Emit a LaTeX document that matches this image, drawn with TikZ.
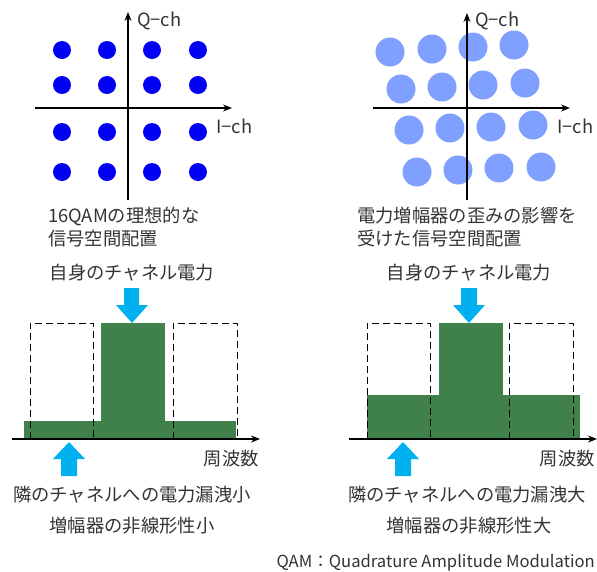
\documentclass[tikz,border=0pt]{standalone}
\usepackage{fontspec}
\setmainfont{Noto Sans CJK JP}
\usetikzlibrary{arrows.meta}
\definecolor{dotblue}{RGB}{0,0,245}
\definecolor{lightdot}{RGB}{128,160,255}
\definecolor{bargreen}{RGB}{64,128,74}
\definecolor{cyanarrow}{RGB}{0,176,240}
\definecolor{txt}{RGB}{51,51,51}
\begin{document}
\begin{tikzpicture}[x=1pt,y=-1pt,
  axis/.style={line width=1.3pt,black,-{Stealth[length=9pt,width=7pt]}},
  lbl/.style={font=\fontsize{18.3}{21}\selectfont,text=txt,inner sep=0pt},
  dotA/.style={circle,fill=dotblue,minimum size=18pt,inner sep=0pt},
  dotB/.style={circle,fill=lightdot,minimum size=29pt,inner sep=0pt},
  dashbox/.style={dashed,dash pattern=on 7pt off 4pt,line width=1pt,black},
  band/.style={fill=bargreen},
  blockarrow/.style={fill=cyanarrow}]
\useasboundingbox (0,0) rectangle (597,571);
% ---------- left constellation ----------
\foreach \x [count=\i] in {62,107,152,198}
  \foreach \y [count=\j] in {50,85,132,172}
    \node[dotA] (a\i\j) at (\x,\y) {};
\coordinate (qa0) at (128,200);
\coordinate (qa1) at (128,12);
\coordinate (ia0) at (35,108);
\coordinate (ia1) at (232,108);
\draw[axis] (qa0) -- (qa1);
\draw[axis] (ia0) -- (ia1);
\node[lbl,anchor=west] (qlA) at (137,21) {Q−ch};
\node[lbl,anchor=west] (ilA) at (216,126) {I−ch};
\node[lbl,anchor=west] (tA1) at (48,216) {16QAMの理想的な};
\node[lbl,anchor=west] (tA2) at (48,239) {信号空間配置};
% ---------- right constellation ----------
\foreach \x/\y [count=\k] in {390/52,432/49,473/47,514/45,
                              401/89,442/87,483/85,525/83,
                              409/130,450/128,491/127,533/125,
                              417/172,458/170,499/168,541/167}
  \node[dotB] (b\k) at (\x,\y) {};
\coordinate (qb0) at (467,200);
\coordinate (qb1) at (467,13);
\coordinate (ib0) at (373,108);
\coordinate (ib1) at (570,108);
\draw[axis] (qb0) -- (qb1);
\draw[axis] (ib0) -- (ib1);
\node[lbl,anchor=west] (qlB) at (475,21) {Q−ch};
\node[lbl,anchor=west] (ilB) at (557,126) {I−ch};
\node[lbl,anchor=west] (tB1) at (357,216) {電力増幅器の歪みの影響を};
\node[lbl,anchor=west] (tB2) at (357,239) {受けた信号空間配置};
% ---------- left spectrum ----------
\node[lbl] (pA) at (132,273) {自身のチャネル電力};
\fill[blockarrow] (124,288) -- (139,288) -- (139,305) -- (148,305) -- (132,323)
  -- (116,305) -- (124,305) -- cycle;
\fill[band] (24,421) rectangle (236,439);
\fill[band] (101,323) rectangle (165,439);
\draw[dashbox] (30,439) -- (30,323) -- (93,323) -- (93,439);
\draw[dashbox] (173,439) -- (173,323) -- (237,323) -- (237,439);
\coordinate (fa0) at (12,439);
\coordinate (fa1) at (260,439);
\draw[axis] (fa0) -- (fa1);
\fill[blockarrow] (61,476) -- (77,476) -- (77,459) -- (85,459) -- (69,442)
  -- (53,459) -- (61,459) -- cycle;
\node[lbl,anchor=east] (fqA) at (259,459) {周波数};
\node[lbl] (lkA) at (132,495) {隣のチャネルへの電力漏洩小};
\node[lbl] (nlA) at (132,526) {増幅器の非線形性小};
% ---------- right spectrum ----------
\node[lbl] (pB) at (469,273) {自身のチャネル電力};
\fill[blockarrow] (461,288) -- (477,288) -- (477,305) -- (485,305) -- (469,323)
  -- (453,305) -- (461,305) -- cycle;
\fill[band] (367,395) rectangle (580,439);
\fill[band] (439,323) rectangle (503,439);
\draw[dashbox] (367,439) -- (367,323) -- (430,323) -- (430,439);
\draw[dashbox] (509,439) -- (509,323) -- (573,323) -- (573,439);
\coordinate (fb0) at (349,439);
\coordinate (fb1) at (597,439);
\draw[axis] (fb0) -- (fb1);
\fill[blockarrow] (395,476) -- (411,476) -- (411,459) -- (419,459) -- (403,442)
  -- (387,459) -- (395,459) -- cycle;
\node[lbl,anchor=east] (fqB) at (595,459) {周波数};
\node[lbl] (lkB) at (467,495) {隣のチャネルへの電力漏洩大};
\node[lbl] (nlB) at (469,526) {増幅器の非線形性大};
% ---------- footnote ----------
\node[lbl,anchor=east,font=\fontsize{16.6}{19}\selectfont] (qam) at (595,563) {QAM：Quadrature Amplitude Modulation};
\end{tikzpicture}
\end{document}
